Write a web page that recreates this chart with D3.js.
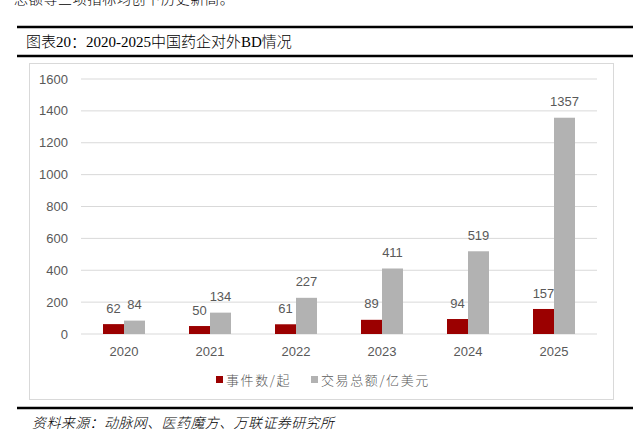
<!DOCTYPE html>
<html>
<head>
<meta charset="utf-8">
<script src="https://cdn.jsdelivr.net/npm/d3@7"></script>
<style>
  body { margin: 0; background: #fff; }
  svg text { font-family: "Liberation Sans", Arial, sans-serif; }
</style>
</head>
<body>
<svg id="chart" width="633" height="444"></svg>
<script>
const years = ["2020", "2021", "2022", "2023", "2024", "2025"];
const dealCount = [62, 50, 61, 89, 94, 157];
const dealValue = [84, 134, 227, 411, 519, 1357];
const seriesNames = ["事件数/起", "交易总额/亿美元"];
const yTicks = [0, 200, 400, 600, 800, 1000, 1200, 1400, 1600];

const svg = d3.select("#chart");
const colors = ["#9b0000", "#b2b2b2"];
const cjk = "\"Noto Sans CJK SC\", sans-serif";
const serif = "\"Liberation Serif\", \"Noto Sans CJK SC\", serif";

// cut-off body text at the very top
svg.append("text").attr("x", 14).attr("y", 4)
  .style("font-family", cjk).style("font-size", "14px").style("letter-spacing", "0.7px")
  .style("font-weight", 300).attr("fill", "#000")
  .text("总额等三项指标均创下历史新高。");

// report frame lines + title
svg.append("line").attr("x1", 17).attr("x2", 633).attr("y1", 27).attr("y2", 27)
  .attr("stroke", "#000").attr("stroke-width", 2.5);
svg.append("line").attr("x1", 17).attr("x2", 633).attr("y1", 56).attr("y2", 56)
  .attr("stroke", "#000").attr("stroke-width", 2.5);
svg.append("text").attr("x", 26).attr("y", 47)
  .style("font-family", serif).style("font-size", "15px").style("font-weight", 300)
  .attr("fill", "#000")
  .text("图表20：2020-2025中国药企对外BD情况");

// chart border
svg.append("rect").attr("x", 29.5).attr("y", 63.5).attr("width", 584).attr("height", 336)
  .attr("fill", "none").attr("stroke", "#d9d9d9");

svg.append("line").attr("x1", 17).attr("x2", 633).attr("y1", 408).attr("y2", 408)
  .attr("stroke", "#000").attr("stroke-width", 2.5);
svg.append("text").attr("x", 32).attr("y", 428)
  .style("font-family", cjk).style("font-size", "14px").style("font-style", "italic")
  .style("font-weight", 300).style("letter-spacing", "0.4px")
  .attr("fill", "#000")
  .text("资料来源：动脉网、医药魔方、万联证券研究所");

// scales
const x = d3.scaleBand().domain(years).range([81, 597]);
const xs = d3.scaleBand().domain([0, 1]).range([0, 42]);
const y = d3.scaleLinear().domain([0, 1600]).range([334, 79]);

// grid
svg.append("g").selectAll("line").data(yTicks).join("line")
  .attr("x1", 81).attr("x2", 597)
  .attr("y1", d => y(d)).attr("y2", d => y(d))
  .attr("stroke", "#d9d9d9").attr("stroke-width", 1);

// y axis labels
svg.append("g").selectAll("text").data(yTicks).join("text")
  .attr("x", 68).attr("y", d => y(d)).attr("dy", "0.35em")
  .attr("text-anchor", "end").attr("fill", "#595959").style("font-size", "13px")
  .text(d => d);

// x labels
svg.append("g").selectAll("text").data(years).join("text")
  .attr("x", d => x(d) + x.bandwidth() / 2).attr("y", 351).attr("dy", "0.35em")
  .attr("text-anchor", "middle").attr("fill", "#595959").style("font-size", "13px")
  .text(d => d);

const series = [dealCount, dealValue];
series.forEach((vals, si) => {
  const g = svg.append("g");
  const bx = (d, i) => x(years[i]) + x.bandwidth() / 2 - 21 + xs(si);
  g.selectAll("rect").data(vals).join("rect")
    .attr("x", bx).attr("width", xs.bandwidth())
    .attr("y", d => y(d)).attr("height", d => y(0) - y(d))
    .attr("fill", colors[si]);
  g.selectAll("text").data(vals).join("text")
    .attr("x", (d, i) => bx(d, i) + xs.bandwidth() / 2)
    .attr("y", d => y(d) - 16).attr("dy", "0.35em")
    .attr("text-anchor", "middle").attr("fill", "#595959").style("font-size", "13px")
    .text(d => d);
});

// legend
const legendX = [216, 311];
seriesNames.forEach((name, i) => {
  svg.append("rect").attr("x", legendX[i]).attr("y", 376).attr("width", 7).attr("height", 7)
    .attr("fill", colors[i]);
  svg.append("text").attr("x", legendX[i] + 10).attr("y", 380).attr("dy", "0.35em")
    .style("font-family", cjk).style("font-size", "13px").style("letter-spacing", "1.6px")
    .style("font-weight", 300).attr("fill", "#595959")
    .text(name);
});
</script>
</body>
</html>
